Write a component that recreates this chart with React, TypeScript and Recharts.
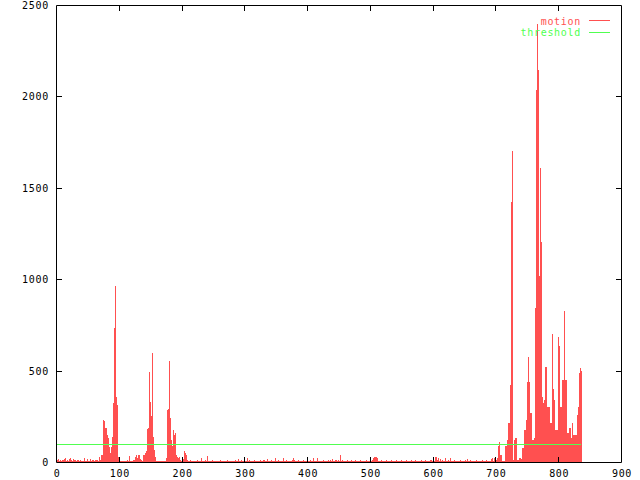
import { ComposedChart, Bar, Line, XAxis, YAxis, ReferenceArea, Legend } from "recharts"

// motion value per frame (frame = array index)
const motion = [
  8, 12, 6, 15, 9, 5, 10, 7, 4, 11, 6, 9, 18, 5, 7, 22, 6, 8, 12, 5,
  9, 14, 20, 6, 11, 7, 5, 16, 8, 10, 6, 13, 7, 5, 9, 12, 6, 8, 5, 10,
  7, 5, 8, 6, 22, 9, 5, 7, 6, 10, 15, 6, 5, 8, 18, 7, 5, 9, 6, 12,
  8, 5, 10, 6, 9, 7, 12, 8, 20, 29, 12, 38, 30, 38, 25, 230, 215, 225, 186, 160,
  186, 148, 111, 130, 84, 60, 49, 84, 70, 139, 120, 321, 250, 733, 963, 357, 330, 312, 275, 29,
  12, 8, 5, 6, 4, 5, 7, 5, 6, 4, 8, 5, 6, 9, 5, 7, 20, 33, 8, 6,
  5, 8, 6, 10, 7, 12, 29, 38, 38, 20, 38, 15, 38, 12, 15, 10, 10, 8, 20, 38,
  38, 30, 47, 47, 60, 181, 186, 181, 494, 330, 300, 175, 250, 596, 139, 100, 66, 25, 8, 5,
  5, 4, 5, 6, 5, 4, 5, 5, 6, 4, 5, 5, 4, 6, 5, 8, 20, 284, 290, 270,
  554, 241, 180, 120, 84, 90, 101, 175, 150, 160, 66, 40, 26, 12, 20, 8, 26, 10, 6, 8,
  5, 7, 10, 15, 62, 50, 30, 40, 12, 8, 5, 7, 6, 5, 9, 6, 5, 8, 6, 5,
  7, 5, 6, 8, 5, 9, 6, 5, 7, 6, 8, 20, 6, 5, 7, 5, 6, 9, 5, 7,
  35, 6, 5, 8, 6, 5, 7, 6, 9, 5, 6, 8, 5, 7, 6, 5, 8, 6, 5, 7,
  6, 9, 5, 7, 6, 5, 8, 6, 7, 5, 6, 8, 5, 9, 6, 7, 5, 6, 8, 5,
  7, 6, 5, 8, 6, 9, 5, 7, 6, 5, 16, 8, 6, 5, 7, 10, 6, 5, 8, 6,
  5, 7, 6, 8, 22, 6, 5, 9, 6, 7, 5, 8, 6, 5, 7, 6, 9, 5, 8, 6,
  7, 5, 6, 8, 5, 12, 6, 7, 5, 9, 6, 8, 11, 5, 7, 6, 16, 8, 5, 6,
  7, 5, 9, 6, 8, 5, 7, 6, 5, 22, 8, 6, 5, 7, 9, 6, 5, 8, 6, 7,
  5, 6, 22, 8, 5, 7, 6, 9, 5, 8, 6, 5, 7, 6, 8, 5, 9, 24, 24, 12,
  6, 5, 8, 7, 6, 5, 9, 6, 7, 5, 8, 6, 5, 7, 9, 6, 5, 8, 6, 7,
  5, 6, 8, 5, 7, 9, 6, 5, 8, 6, 24, 7, 5, 6, 8, 5, 22, 6, 7, 5,
  8, 6, 5, 7, 6, 9, 5, 8, 6, 7, 5, 6, 8, 12, 5, 7, 6, 9, 5, 14,
  6, 5, 8, 7, 13, 5, 9, 6, 8, 12, 6, 7, 38, 5, 8, 6, 9, 5, 7, 6,
  8, 5, 6, 9, 7, 5, 8, 6, 5, 7, 9, 6, 5, 8, 6, 7, 5, 9, 6, 8,
  5, 7, 6, 8, 5, 9, 6, 7, 5, 8, 6, 5, 7, 6, 9, 5, 8, 6, 7, 5,
  6, 8, 5, 7, 9, 24, 30, 12, 28, 30, 26, 24, 14, 6, 8, 5, 7, 6, 9, 5,
  8, 6, 7, 5, 6, 9, 5, 8, 6, 7, 5, 6, 8, 5, 9, 6, 7, 5, 8, 6,
  5, 7, 9, 6, 5, 8, 6, 7, 5, 9, 6, 8, 5, 7, 6, 5, 8, 9, 6, 7,
  5, 6, 8, 5, 7, 9, 6, 5, 8, 6, 7, 5, 9, 6, 8, 5, 7, 6, 5, 8,
  6, 9, 5, 7, 6, 8, 5, 6, 9, 7, 5, 8, 6, 5, 7, 6, 9, 8, 12, 6,
  5, 22, 8, 24, 28, 30, 26, 12, 22, 6, 8, 5, 14, 7, 6, 9, 5, 8, 6, 22,
  7, 5, 6, 8, 9, 5, 7, 6, 22, 5, 8, 6, 7, 5, 9, 6, 8, 5, 7, 6,
  5, 8, 6, 9, 7, 5, 6, 8, 5, 7, 6, 9, 5, 8, 16, 7, 5, 6, 8, 5,
  9, 6, 7, 5, 8, 6, 5, 7, 6, 9, 5, 8, 6, 7, 5, 6, 8, 5, 9, 6,
  7, 5, 8, 6, 5, 9, 7, 6, 5, 8, 6, 7, 5, 18, 22, 16, 6, 22, 8, 5,
  6, 9, 14, 22, 88, 93, 111, 38, 30, 38, 5, 6, 5, 5, 6, 88, 80, 88, 120, 110,
  213, 180, 213, 421, 380, 1422, 1701, 20, 10, 100, 120, 131, 131, 131, 10, 12, 10, 15, 22, 22,
  18, 10, 77, 60, 77, 175, 160, 175, 230, 200, 437, 420, 574, 437, 300, 268, 250, 268, 120, 110,
  120, 120, 130, 842, 2035, 1900, 2396, 1700, 2144, 1017, 1000, 1608, 1205, 900, 356, 300, 323, 340, 330, 520,
  480, 520, 301, 290, 301, 301, 250, 213, 213, 200, 700, 400, 339, 339, 300, 175, 175, 160, 175, 650,
  684, 635, 301, 301, 280, 300, 449, 420, 449, 826, 449, 449, 449, 300, 159, 159, 150, 186, 170, 186,
  131, 120, 213, 148, 148, 148, 140, 148, 148, 148, 257, 257, 300, 487, 450, 514, 500,
]

const threshold = 100
const xTicks = [0, 100, 200, 300, 400, 500, 600, 700, 800, 900]
const yTicks = [0, 500, 1000, 1500, 2000, 2500]

const data = motion.map((m, i) => ({ frame: i, motion: m, threshold }))

const RED = "#ff5050"
const GREEN = "#50ff50"
const W = 640
const H = 480
// plot box: x 56.5..621.5, y 5.5..462.5 (1px lines land on whole pixels)
const LEFT = 56.5
const TOP = 5.5
const BOTTOM_GAP = 17.5
const margin = { top: TOP, right: 18.5, bottom: 0, left: 0 }
const plotW = W - LEFT - margin.right
const plotH = H - TOP - BOTTOM_GAP
const plotTopRow = Math.floor(TOP)
const plotBottomRow = Math.floor(TOP + plotH)
const plotLeftCol = Math.floor(LEFT)
const font = { fontFamily: '"DejaVu Sans Mono", monospace', fontSize: 10, letterSpacing: 0.7 }

// gnuplot "impulses": one pixel wide line per frame
function Impulse(props: any) {
  const { x, y, width, height, fill } = props
  if (!height || height <= 0) return null
  const col = Math.floor(x + width / 2)
  const top = Math.floor(y)
  const bottom = Math.floor(y + height)
  if (bottom <= top) return null
  return <rect x={col} y={top} width={1} height={bottom - top} fill={fill} />
}

function XTick(props: any) {
  const { x, payload } = props
  const col = Math.floor(x)
  return (
    <g>
      <rect x={col} y={plotBottomRow - 5} width={1} height={5} fill="#000" />
      <rect x={col} y={plotTopRow + 1} width={1} height={5} fill="#000" />
      <text x={x + 0.5} y={plotBottomRow + 15} textAnchor="middle" fill="#000" style={font}>
        {payload.value}
      </text>
    </g>
  )
}

function YTick(props: any) {
  const { y, payload } = props
  const row = Math.floor(y)
  return (
    <g>
      <rect x={plotLeftCol + 1} y={row} width={5} height={1} fill="#000" />
      <rect x={plotLeftCol + plotW - 5} y={row} width={5} height={1} fill="#000" />
      <text x={49} y={row + 4} textAnchor="end" fill="#000" style={font}>
        {payload.value}
      </text>
    </g>
  )
}

function KeyBox(props: any) {
  const items = props.payload ?? []
  return (
    <svg width={W} height={45} style={{ display: "block" }}>
      {items.map((it: any, i: number) => (
        <g key={it.value}>
          <text x={581} y={25 + i * 11} textAnchor="end" fill={it.color} style={font}>
            {it.value}
          </text>
          <rect x={589} y={20 + i * 12} width={21} height={1} fill={it.color} />
        </g>
      ))}
    </svg>
  )
}

export default function App() {
  return (
    <div style={{ position: "absolute", left: 0, top: 0, width: W, height: H, background: "#fff" }}>
      <ComposedChart width={W} height={H} data={data} margin={margin}>
        <XAxis
          dataKey="frame"
          type="number"
          domain={[0, 900]}
          ticks={xTicks}
          interval={0}
          height={BOTTOM_GAP}
          tickSize={0}
          tickMargin={0}
          axisLine={false}
          tickLine={false}
          tick={XTick}
        />
        <YAxis
          type="number"
          domain={[0, 2500]}
          ticks={yTicks}
          interval={0}
          width={LEFT}
          tickSize={0}
          tickMargin={0}
          axisLine={false}
          tickLine={false}
          tick={YTick}
        />
        <Bar dataKey="motion" name="motion" fill={RED} barSize={1} shape={Impulse} isAnimationActive={false} />
        <Line
          dataKey="threshold"
          name="threshold"
          stroke={GREEN}
          strokeWidth={1}
          dot={false}
          activeDot={false}
          shapeRendering="crispEdges"
          isAnimationActive={false}
        />
        <ReferenceArea x1={0} x2={900} y1={0} y2={2500} fill="none" stroke="#000" strokeWidth={1} ifOverflow="visible" />
        <Legend
          layout="horizontal"
          verticalAlign="middle"
          align="center"
          content={KeyBox}
          wrapperStyle={{ position: "absolute", left: 0, top: 0, width: W, height: 45 }}
        />
      </ComposedChart>
    </div>
  )
}
